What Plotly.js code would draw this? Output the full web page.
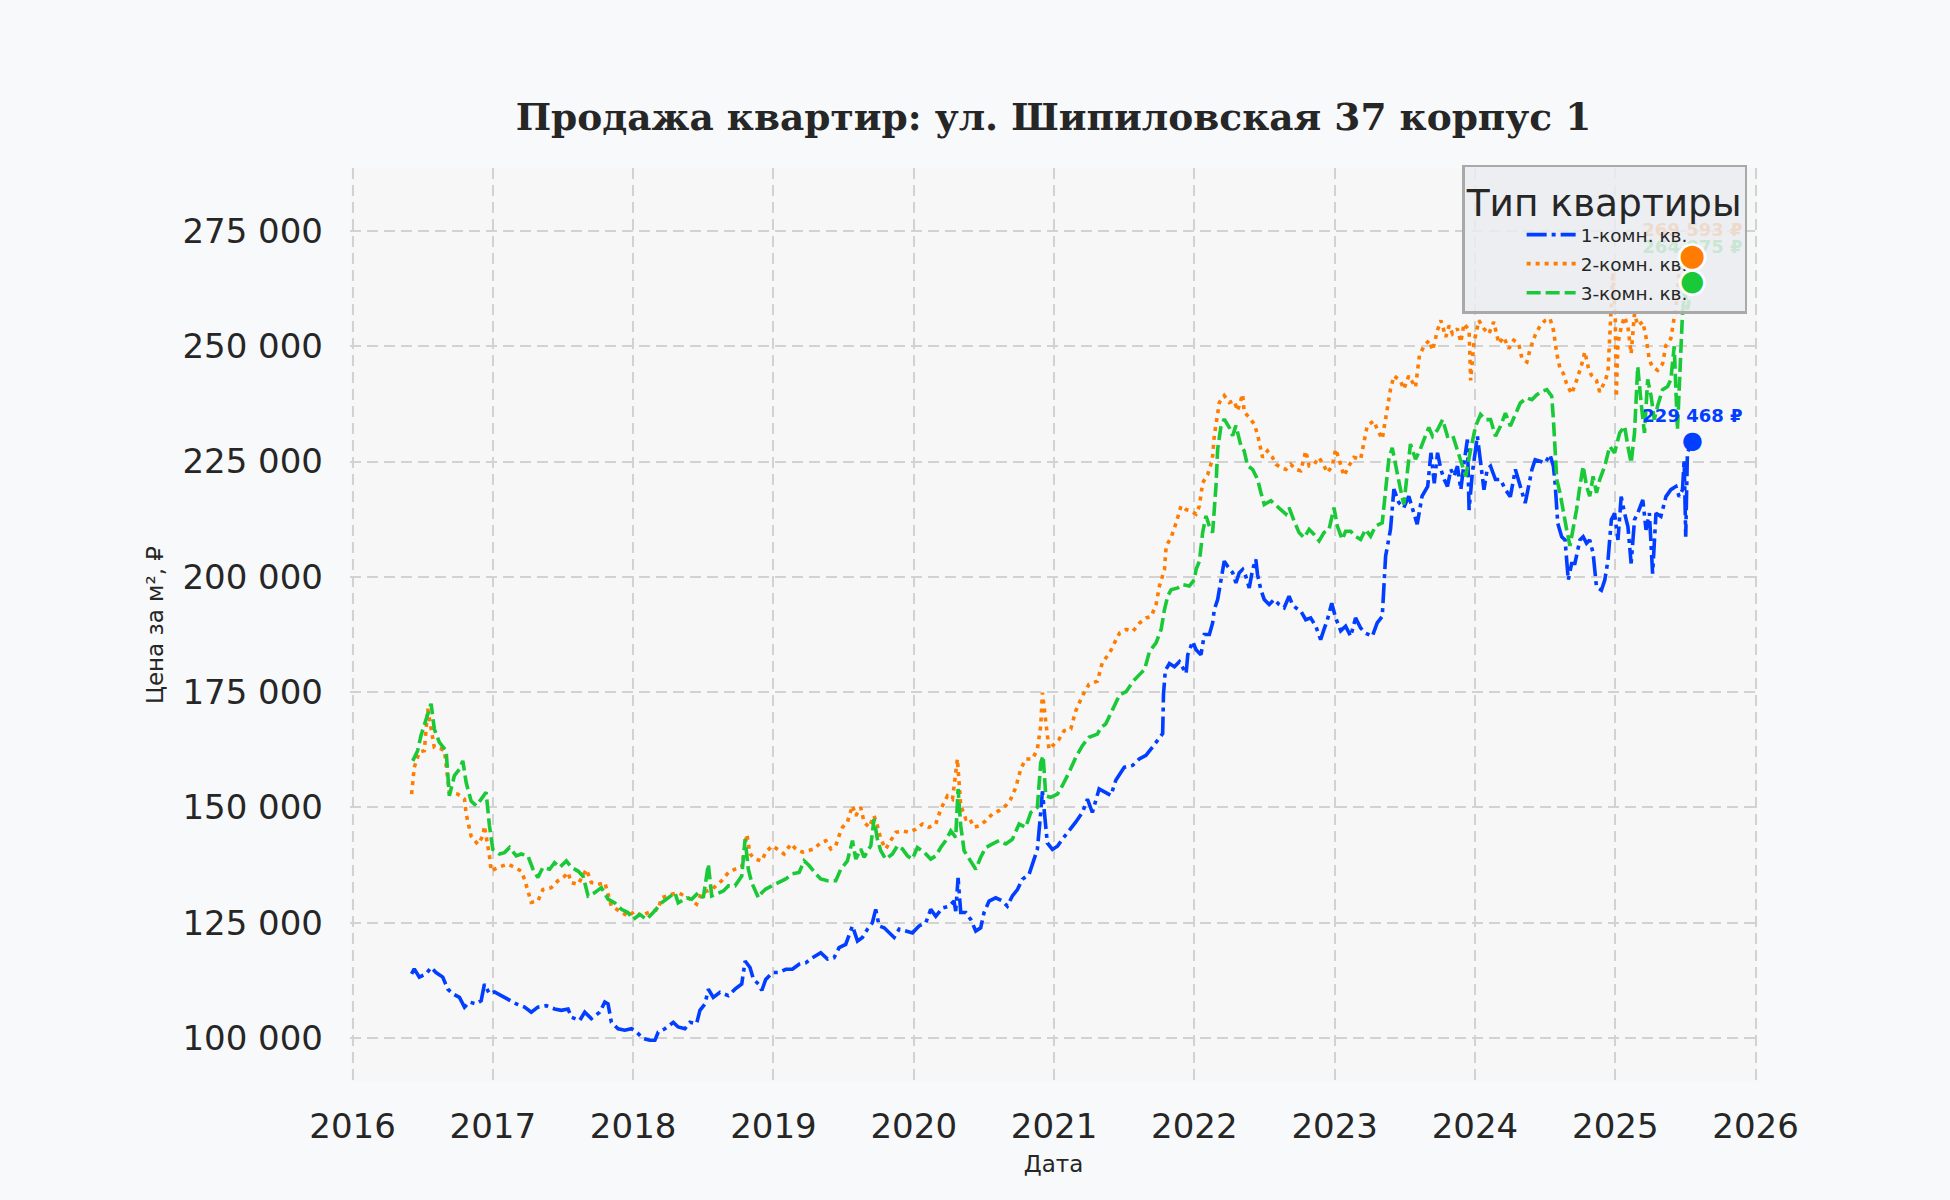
<!DOCTYPE html>
<html>
<head>
<meta charset="utf-8">
<script src="https://cdn.plot.ly/plotly-3.0.1.min.js"></script>
<style>
  html, body { margin: 0; padding: 0; background: #f8f9fb; }
  #chart { width: 1950px; height: 1200px; }
</style>
</head>
<body>
<div id="chart"></div>
<script>
// readings taken off the source chart (decimal year, rubles per m²)
const oneRoomYears = [
  2016.421, 2016.440, 2016.476, 2016.524, 2016.560, 2016.595, 2016.643, 2016.679, 2016.714, 2016.762,
  2016.798, 2016.833, 2016.881, 2016.917, 2016.940, 2016.976, 2017.012, 2017.060, 2017.119, 2017.167,
  2017.226, 2017.274, 2017.321, 2017.381, 2017.440, 2017.488, 2017.536, 2017.560, 2017.619, 2017.655,
  2017.702, 2017.762, 2017.798, 2017.821, 2017.845, 2017.893, 2017.940, 2017.988, 2018.024, 2018.071,
  2018.119, 2018.155, 2018.179, 2018.226, 2018.286, 2018.321, 2018.369, 2018.405, 2018.452, 2018.476,
  2018.512, 2018.536, 2018.571, 2018.619, 2018.679, 2018.726, 2018.774, 2018.798, 2018.833, 2018.857,
  2018.893, 2018.917, 2018.945, 2018.993, 2019.040, 2019.088, 2019.135, 2019.183, 2019.230, 2019.278,
  2019.337, 2019.385, 2019.432, 2019.468, 2019.515, 2019.563, 2019.599, 2019.634, 2019.670, 2019.705,
  2019.729, 2019.753, 2019.789, 2019.824, 2019.860, 2019.896, 2019.943, 2019.990, 2020.038, 2020.086,
  2020.121, 2020.157, 2020.204, 2020.252, 2020.287, 2020.299, 2020.316, 2020.335, 2020.371, 2020.406,
  2020.442, 2020.477, 2020.501, 2020.537, 2020.584, 2020.632, 2020.667, 2020.703, 2020.739, 2020.774,
  2020.822, 2020.857, 2020.881, 2020.905, 2020.917, 2020.929, 2020.952, 2020.988, 2021.024, 2021.059,
  2021.107, 2021.154, 2021.202, 2021.238, 2021.273, 2021.321, 2021.405, 2021.440, 2021.500, 2021.560,
  2021.607, 2021.655, 2021.702, 2021.738, 2021.774, 2021.780, 2021.793, 2021.822, 2021.858, 2021.893,
  2021.941, 2021.953, 2021.988, 2022.012, 2022.047, 2022.071, 2022.107, 2022.130, 2022.142, 2022.166,
  2022.190, 2022.213, 2022.237, 2022.273, 2022.296, 2022.320, 2022.344, 2022.367, 2022.391, 2022.415,
  2022.438, 2022.450, 2022.474, 2022.498, 2022.533, 2022.569, 2022.604, 2022.640, 2022.675, 2022.699,
  2022.723, 2022.758, 2022.794, 2022.829, 2022.865, 2022.900, 2022.924, 2022.948, 2022.979, 2023.007,
  2023.043, 2023.078, 2023.114, 2023.149, 2023.185, 2023.220, 2023.268, 2023.303, 2023.339, 2023.351,
  2023.363, 2023.398, 2023.422, 2023.457, 2023.493, 2023.528, 2023.564, 2023.588, 2023.623, 2023.663,
  2023.686, 2023.710, 2023.733, 2023.757, 2023.781, 2023.804, 2023.828, 2023.851, 2023.875, 2023.899,
  2023.922, 2023.946, 2023.958, 2023.981, 2024.017, 2024.040, 2024.064, 2024.087, 2024.111, 2024.146,
  2024.182, 2024.217, 2024.252, 2024.288, 2024.323, 2024.358, 2024.382, 2024.406, 2024.429, 2024.465,
  2024.500, 2024.535, 2024.559, 2024.571, 2024.590, 2024.618, 2024.642, 2024.665, 2024.689, 2024.712,
  2024.748, 2024.771, 2024.795, 2024.818, 2024.842, 2024.866, 2024.901, 2024.925, 2024.948, 2024.972,
  2024.995, 2025.019, 2025.042, 2025.066, 2025.090, 2025.113, 2025.137, 2025.160, 2025.196, 2025.219,
  2025.243, 2025.266, 2025.290, 2025.325, 2025.361, 2025.396, 2025.432, 2025.455, 2025.479, 2025.491,
  2025.502, 2025.514, 2025.550
];
const oneRoomPrice = [
  113900, 115000, 113200, 113900, 115300, 114200, 113200, 110600, 109600, 108800,
  106700, 107800, 107400, 108100, 111700, 109600, 110000, 109200, 108100, 107400,
  106700, 105600, 106700, 107000, 106300, 106000, 106300, 104500, 103800, 105600,
  104200, 105600, 107800, 107400, 103400, 102000, 101700, 102000, 101300, 99900,
  99500, 99500, 101300, 102000, 103400, 102400, 102000, 103400, 103100, 106000,
  107400, 110600, 108800, 109900, 109200, 110600, 111700, 116700, 115300, 112800,
  111700, 110300, 112700, 114200, 114200, 114900, 114900, 116000, 116300, 117400,
  118500, 117100, 117400, 119600, 120300, 124300, 121000, 121800, 123600, 125000,
  127900, 124300, 123900, 122800, 121800, 123600, 123300, 122800, 124300, 125000,
  127900, 126400, 128200, 128600, 129700, 127500, 134700, 127200, 127200, 125700,
  123200, 123900, 127200, 129700, 130400, 129700, 128600, 130800, 132200, 134400,
  135500, 138700, 140900, 148900, 153500, 149600, 142300, 140900, 141600, 143100,
  144900, 146800, 148900, 151800, 148900, 154000, 152600, 155900, 158700, 159100,
  160500, 161300, 163100, 164500, 166000, 174600, 179700, 181200, 180500, 181600,
  179000, 183100, 186000, 184200, 183100, 187500, 187500, 190000, 192900, 195100,
  199400, 203400, 202300, 200900, 198700, 200900, 201600, 200100, 197600, 201600,
  203800, 200500, 197200, 195100, 194000, 195100, 194000, 193300, 195800, 194000,
  193300, 192600, 190700, 191100, 189300, 186400, 188600, 190700, 194300, 191100,
  188300, 189300, 187100, 191100, 188900, 187800, 187100, 190000, 191400, 200100,
  204500, 210300, 219000, 216100, 215000, 217500, 213900, 211400, 217500, 219600,
  226900, 220300, 226900, 223300, 221100, 219600, 223300, 221800, 224000, 218900,
  224700, 229800, 214500, 222500, 230500, 225400, 218900, 223300, 224000, 221100,
  221100, 218900, 217400, 223300, 219600, 216000, 219600, 223300, 225400, 225100,
  224700, 226500, 224000, 220300, 211600, 208700, 208000, 199300, 202900, 202900,
  208000, 208700, 207300, 208000, 205100, 197800, 197100, 199300, 203600, 212400,
  213800, 208000, 217400, 213800, 210900, 202900, 212400, 213800, 216700, 210200,
  213800, 200700, 213800, 213100, 217400, 218900, 219600, 217400, 218900, 225400,
  208700, 226900, 229468
];

const twoRoomYears = [
  2016.421, 2016.440, 2016.476, 2016.512, 2016.536, 2016.560, 2016.583, 2016.631, 2016.655, 2016.690,
  2016.750, 2016.798, 2016.810, 2016.845, 2016.893, 2016.929, 2016.940, 2016.976, 2016.988, 2017.036,
  2017.107, 2017.155, 2017.202, 2017.226, 2017.250, 2017.274, 2017.321, 2017.357, 2017.417, 2017.464,
  2017.512, 2017.536, 2017.560, 2017.607, 2017.667, 2017.702, 2017.750, 2017.798, 2017.845, 2017.917,
  2017.964, 2018.012, 2018.060, 2018.107, 2018.179, 2018.202, 2018.274, 2018.321, 2018.393, 2018.452,
  2018.488, 2018.560, 2018.631, 2018.679, 2018.726, 2018.774, 2018.810, 2018.833, 2018.869, 2018.917,
  2018.945, 2018.993, 2019.040, 2019.076, 2019.124, 2019.159, 2019.207, 2019.242, 2019.290, 2019.337,
  2019.373, 2019.409, 2019.444, 2019.468, 2019.492, 2019.527, 2019.563, 2019.587, 2019.622, 2019.646,
  2019.682, 2019.717, 2019.741, 2019.765, 2019.800, 2019.836, 2019.872, 2019.919, 2019.967, 2020.014,
  2020.062, 2020.109, 2020.157, 2020.192, 2020.240, 2020.276, 2020.311, 2020.335, 2020.371, 2020.394,
  2020.430, 2020.466, 2020.513, 2020.561, 2020.608, 2020.656, 2020.691, 2020.727, 2020.762, 2020.798,
  2020.846, 2020.881, 2020.905, 2020.917, 2020.941, 2020.964, 2021.000, 2021.036, 2021.071, 2021.119,
  2021.154, 2021.202, 2021.249, 2021.309, 2021.344, 2021.396, 2021.431, 2021.467, 2021.514, 2021.562,
  2021.609, 2021.656, 2021.692, 2021.727, 2021.751, 2021.787, 2021.799, 2021.834, 2021.870, 2021.905,
  2021.941, 2021.976, 2022.012, 2022.036, 2022.059, 2022.095, 2022.118, 2022.130, 2022.142, 2022.166,
  2022.178, 2022.213, 2022.249, 2022.284, 2022.308, 2022.344, 2022.355, 2022.391, 2022.427, 2022.450,
  2022.474, 2022.486, 2022.521, 2022.557, 2022.581, 2022.616, 2022.652, 2022.687, 2022.723, 2022.758,
  2022.794, 2022.818, 2022.853, 2022.889, 2022.924, 2022.948, 2022.983, 2023.007, 2023.031, 2023.066,
  2023.102, 2023.137, 2023.185, 2023.209, 2023.232, 2023.280, 2023.303, 2023.339, 2023.363, 2023.386,
  2023.398, 2023.422, 2023.469, 2023.493, 2023.528, 2023.576, 2023.604, 2023.639, 2023.675, 2023.698,
  2023.733, 2023.757, 2023.792, 2023.816, 2023.840, 2023.875, 2023.899, 2023.922, 2023.958, 2023.969,
  2023.993, 2024.028, 2024.064, 2024.099, 2024.134, 2024.170, 2024.205, 2024.241, 2024.276, 2024.311,
  2024.335, 2024.370, 2024.394, 2024.429, 2024.465, 2024.500, 2024.535, 2024.559, 2024.583, 2024.606,
  2024.630, 2024.653, 2024.689, 2024.724, 2024.759, 2024.783, 2024.807, 2024.830, 2024.866, 2024.889,
  2024.925, 2024.948, 2024.960, 2024.972, 2024.983, 2025.000, 2025.007, 2025.019, 2025.042, 2025.066,
  2025.090, 2025.113, 2025.137, 2025.160, 2025.196, 2025.219, 2025.243, 2025.266, 2025.302, 2025.337,
  2025.361, 2025.396, 2025.432, 2025.455, 2025.479, 2025.495, 2025.514, 2025.550
];
const twoRoomPrice = [
  152900, 158700, 162000, 162300, 171400, 167000, 163000, 162700, 162300, 153300,
  152900, 151800, 148600, 143800, 142000, 143800, 146000, 139500, 136200, 137000,
  137700, 137000, 136200, 134400, 131500, 129400, 129700, 132200, 132600, 134100,
  135100, 135900, 133700, 133300, 136600, 133700, 133300, 133700, 128600, 127200,
  126400, 127500, 126400, 127200, 127900, 130400, 131200, 131500, 130400, 129000,
  131500, 132200, 134100, 135900, 136600, 137000, 144200, 139900, 138800, 138400,
  140300, 141700, 140600, 139900, 142100, 141000, 140300, 140600, 141000, 142400,
  142800, 141000, 141700, 143900, 145700, 146800, 150400, 148200, 150000, 146800,
  145700, 148200, 146000, 143100, 141000, 142800, 144600, 144900, 144600, 145300,
  146400, 145700, 146400, 149600, 152500, 151800, 160500, 150400, 147500, 147800,
  145700, 146000, 147100, 148600, 149300, 150400, 151800, 154300, 158300, 160500,
  160500, 162600, 167700, 174900, 167700, 162600, 163700, 164800, 166600, 167000,
  170900, 174200, 176700, 177400, 181400, 183500, 185700, 187800, 188600, 188200,
  190000, 191100, 191400, 194000, 198000, 201600, 206700, 208500, 211700, 215400,
  214600, 214300, 213600, 215400, 220400, 222200, 224400, 226200, 230600, 235700,
  237800, 239300, 237800, 238200, 236000, 239600, 235700, 234600, 233100, 230900,
  228000, 225900, 227300, 225900, 224400, 223700, 223300, 224400, 223300, 223000,
  227300, 224100, 224400, 225900, 224100, 222600, 224100, 227700, 225500, 221900,
  224100, 225900, 225500, 229100, 232800, 233800, 232000, 229900, 234200, 237800,
  240700, 243600, 242500, 240700, 243600, 241100, 248000, 250200, 251300, 249100,
  253500, 255600, 252000, 254500, 252700, 253800, 250900, 254900, 253500, 242600,
  250900, 255600, 253800, 252700, 255300, 250600, 252000, 249500, 251300, 250600,
  247300, 246600, 249500, 252400, 254500, 255600, 256000, 253500, 248400, 245200,
  244100, 241900, 239700, 242600, 245900, 248800, 245500, 243700, 242600, 240100,
  242300, 244400, 252000, 262000, 266000, 256000, 239000, 250600, 254200, 256400,
  254200, 248400, 257100, 254500, 255300, 252000, 247000, 245500, 244800, 246200,
  250200, 251700, 258500, 266000, 272000, 262000, 270000, 269593
];

const threeRoomYears = [
  2016.429, 2016.464, 2016.488, 2016.524, 2016.560, 2016.583, 2016.619, 2016.667, 2016.690, 2016.726,
  2016.762, 2016.786, 2016.810, 2016.845, 2016.881, 2016.917, 2016.952, 2016.976, 2017.000, 2017.048,
  2017.083, 2017.119, 2017.167, 2017.202, 2017.250, 2017.286, 2017.321, 2017.357, 2017.405, 2017.440,
  2017.476, 2017.524, 2017.560, 2017.607, 2017.643, 2017.679, 2017.726, 2017.774, 2017.821, 2017.869,
  2017.917, 2017.964, 2018.000, 2018.048, 2018.095, 2018.143, 2018.202, 2018.250, 2018.298, 2018.321,
  2018.381, 2018.417, 2018.464, 2018.500, 2018.536, 2018.560, 2018.595, 2018.643, 2018.679, 2018.726,
  2018.774, 2018.798, 2018.821, 2018.845, 2018.893, 2018.917, 2018.945, 2018.993, 2019.040, 2019.088,
  2019.135, 2019.183, 2019.219, 2019.254, 2019.302, 2019.337, 2019.385, 2019.444, 2019.480, 2019.527,
  2019.563, 2019.587, 2019.622, 2019.646, 2019.694, 2019.717, 2019.741, 2019.765, 2019.800, 2019.848,
  2019.884, 2019.919, 2019.955, 2019.990, 2020.026, 2020.074, 2020.121, 2020.157, 2020.192, 2020.228,
  2020.264, 2020.299, 2020.316, 2020.335, 2020.359, 2020.394, 2020.442, 2020.477, 2020.513, 2020.561,
  2020.608, 2020.656, 2020.703, 2020.751, 2020.798, 2020.834, 2020.881, 2020.905, 2020.922, 2020.941,
  2020.976, 2021.024, 2021.059, 2021.107, 2021.154, 2021.202, 2021.249, 2021.309, 2021.333, 2021.368,
  2021.431, 2021.467, 2021.514, 2021.562, 2021.609, 2021.645, 2021.680, 2021.727, 2021.763, 2021.787,
  2021.810, 2021.834, 2021.882, 2021.917, 2021.964, 2022.000, 2022.012, 2022.036, 2022.059, 2022.083,
  2022.107, 2022.130, 2022.154, 2022.166, 2022.190, 2022.213, 2022.249, 2022.273, 2022.296, 2022.332,
  2022.355, 2022.379, 2022.415, 2022.450, 2022.474, 2022.498, 2022.545, 2022.581, 2022.616, 2022.652,
  2022.675, 2022.711, 2022.746, 2022.782, 2022.818, 2022.853, 2022.889, 2022.924, 2022.960, 2022.995,
  2023.019, 2023.054, 2023.078, 2023.114, 2023.149, 2023.185, 2023.220, 2023.256, 2023.291, 2023.339,
  2023.363, 2023.386, 2023.410, 2023.434, 2023.469, 2023.493, 2023.517, 2023.540, 2023.576, 2023.611,
  2023.647, 2023.671, 2023.698, 2023.733, 2023.769, 2023.804, 2023.840, 2023.875, 2023.910, 2023.934,
  2023.969, 2024.005, 2024.040, 2024.075, 2024.111, 2024.146, 2024.182, 2024.217, 2024.252, 2024.288,
  2024.323, 2024.370, 2024.406, 2024.441, 2024.476, 2024.512, 2024.547, 2024.559, 2024.571, 2024.583,
  2024.606, 2024.630, 2024.653, 2024.677, 2024.700, 2024.724, 2024.748, 2024.771, 2024.795, 2024.818,
  2024.842, 2024.866, 2024.889, 2024.925, 2024.960, 2024.995, 2025.031, 2025.066, 2025.090, 2025.113,
  2025.137, 2025.160, 2025.184, 2025.208, 2025.231, 2025.255, 2025.278, 2025.302, 2025.337, 2025.373,
  2025.396, 2025.420, 2025.443, 2025.467, 2025.479, 2025.495, 2025.514, 2025.550
];
const threeRoomPrice = [
  160100, 162300, 165600, 168800, 172500, 167000, 164100, 162300, 152500, 156900,
  158300, 160100, 155400, 151400, 150400, 151800, 153300, 146000, 140900, 139900,
  140200, 141300, 139500, 139900, 139500, 136600, 134800, 137000, 136600, 138000,
  137000, 138400, 137000, 136200, 135100, 130800, 131500, 132600, 130100, 129300,
  127900, 127200, 125700, 126800, 125700, 127200, 129300, 130400, 131500, 129300,
  130400, 130100, 131500, 130400, 137700, 130800, 131200, 131900, 133000, 133000,
  135100, 143100, 136600, 133700, 130400, 131500, 132300, 133000, 133800, 134500,
  135600, 135900, 138400, 137400, 135600, 134500, 134100, 134100, 136600, 138400,
  142800, 138800, 141000, 139200, 141700, 147500, 143100, 140600, 138800, 139900,
  141700, 141000, 139500, 138800, 141300, 140300, 138800, 139500, 141300, 142800,
  144900, 143500, 154000, 146000, 140600, 138800, 136600, 139200, 141300, 142100,
  142800, 142100, 143100, 146400, 145700, 148900, 150000, 159700, 161200, 152500,
  152200, 152900, 154700, 157600, 160800, 163400, 165200, 165900, 167300, 168100,
  171900, 174400, 175100, 177300, 178800, 179900, 183800, 185700, 188600, 192900,
  195800, 197200, 197600, 198300, 198000, 199400, 201600, 203400, 209600, 213200,
  211000, 209600, 219700, 227700, 232800, 234200, 232400, 230600, 232800, 228400,
  227300, 224100, 223300, 221200, 218300, 215700, 216500, 215400, 214600, 213600,
  215000, 212100, 209600, 208500, 210300, 209200, 207800, 209600, 210300, 215000,
  211000, 208100, 209900, 209900, 208800, 208100, 210300, 208800, 211000, 211700,
  219300, 225500, 228000, 224100, 219000, 215700, 223300, 228800, 225500, 227700,
  230600, 232400, 230500, 231900, 234100, 230500, 230800, 227600, 224000, 221800,
  227600, 232700, 235200, 234100, 234100, 230500, 232700, 235500, 232700, 235500,
  237700, 238800, 238400, 239500, 240200, 240600, 239200, 234100, 226200, 221100,
  218200, 213900, 210300, 206700, 210300, 214600, 219700, 224000, 219700, 217500,
  221800, 218200, 221100, 224000, 228300, 226900, 231200, 232700, 228300, 224700,
  231200, 245600, 237700, 231200, 242800, 239200, 234100, 237100, 240600, 241300,
  242800, 250000, 231900, 246400, 257200, 262000, 258000, 264075
];

const seriesNames = ['1-комн. кв.', '2-комн. кв.', '3-комн. кв.'];
const seriesColors = ['#023eff', '#ff7c00', '#1ac938'];
const seriesDashes = ['20px,5px,4px,5px', '4px,5px', '14px,5px'];
const yearTicks = [2016, 2017, 2018, 2019, 2020, 2021, 2022, 2023, 2024, 2025, 2026];
const priceTicks = [100000, 125000, 150000, 175000, 200000, 225000, 250000, 275000];

const seriesX = [oneRoomYears, twoRoomYears, threeRoomYears];
const seriesY = [oneRoomPrice, twoRoomPrice, threeRoomPrice];

const traces = seriesNames.map((name, i) => ({
  x: seriesX[i],
  y: seriesY[i],
  name: name,
  type: 'scatter',
  mode: 'lines',
  legendgroup: 'g' + i,
  line: {color: seriesColors[i], width: 3.6, dash: seriesDashes[i]}
}));

// last point of each series: the value label lives in the plot layer (so it
// sits under the legend), invisible marker sizes only set how far up it goes
const lastX = seriesX.map(a => a[a.length - 1]);
const lastY = seriesY.map(a => a[a.length - 1]);
traces.push({
  x: lastX,
  y: lastY,
  type: 'scatter',
  mode: 'markers+text',
  showlegend: false,
  texttemplate: '%{y:,d} ₽',
  textposition: 'top center',
  textfont: {family: 'DejaVu Sans', size: 18, weight: 'bold', color: seriesColors},
  marker: {color: seriesColors, opacity: 0, size: [22, 23, 37]}
});

// the dots themselves are drawn as annotations so they stay above the legend
const dotSizes = [24, 30, 28];
const annotations = [];
lastX.forEach((x, i) => {
  if (i > 0) {
    annotations.push({x: x, y: lastY[i], yshift: 1, text: '●', showarrow: false, xanchor: 'center', yanchor: 'middle',
      font: {family: 'DejaVu Sans', size: dotSizes[i] + 7, color: '#ffffff'}});
  }
  annotations.push({x: x, y: lastY[i], yshift: 1, text: '●', showarrow: false, xanchor: 'center', yanchor: 'middle',
    font: {family: 'DejaVu Sans', size: dotSizes[i], color: seriesColors[i]}});
});

const gridStyle = {color: '#d2d2d2', width: 2, dash: '11px,6px'};

const layout = {
  width: 1950,
  height: 1200,
  paper_bgcolor: '#f8f9fb',
  plot_bgcolor: '#f7f7f7',
  separators: ', ',
  margin: {l: 350, r: 193, t: 168, b: 118},
  font: {family: 'DejaVu Sans', color: '#262626'},
  title: {
    text: 'Продажа квартир: ул. Шипиловская 37 корпус 1',
    font: {family: 'DejaVu Serif', size: 37.5, weight: 'bold', color: '#262626'},
    x: 0.5, xref: 'paper', xanchor: 'center',
    y: 0.9025, yref: 'container', yanchor: 'middle'
  },
  xaxis: {
    range: [2015.982, 2026.01],
    tickvals: yearTicks,
    tickformat: 'd',
    ticks: '',
    ticklabelstandoff: 21,
    tickfont: {size: 34, color: '#262626'},
    showgrid: true,
    gridcolor: gridStyle.color,
    gridwidth: gridStyle.width,
    griddash: gridStyle.dash,
    zeroline: false,
    showline: false,
    title: {text: 'Дата', font: {size: 23, color: '#262626'}, standoff: 10}
  },
  yaxis: {
    range: [90460, 288660],
    tickvals: priceTicks,
    tickformat: ',d',
    ticks: '',
    ticklabelstandoff: 26,
    tickfont: {size: 34, color: '#262626'},
    showgrid: true,
    gridcolor: gridStyle.color,
    gridwidth: gridStyle.width,
    griddash: gridStyle.dash,
    zeroline: false,
    showline: false,
    title: {text: 'Цена за м², ₽', font: {size: 23, color: '#262626'}, standoff: 12}
  },
  legend: {
    x: 0.993, y: 1.0035, xanchor: 'right', yanchor: 'top',
    bgcolor: 'rgba(234,236,241,0.84)',
    bordercolor: '#a9a9a9',
    borderwidth: 2.5,
    font: {family: 'DejaVu Sans', size: 18.5, color: '#262626'},
    title: {text: 'Тип квартиры', font: {size: 37.5, color: '#262626'}},
    indentation: 57,
    itemwidth: 49,
    tracegroupgap: 2
  },
  annotations: annotations,
  showlegend: true
};

Plotly.newPlot('chart', traces, layout, {staticPlot: true});
</script>
</body>
</html>
